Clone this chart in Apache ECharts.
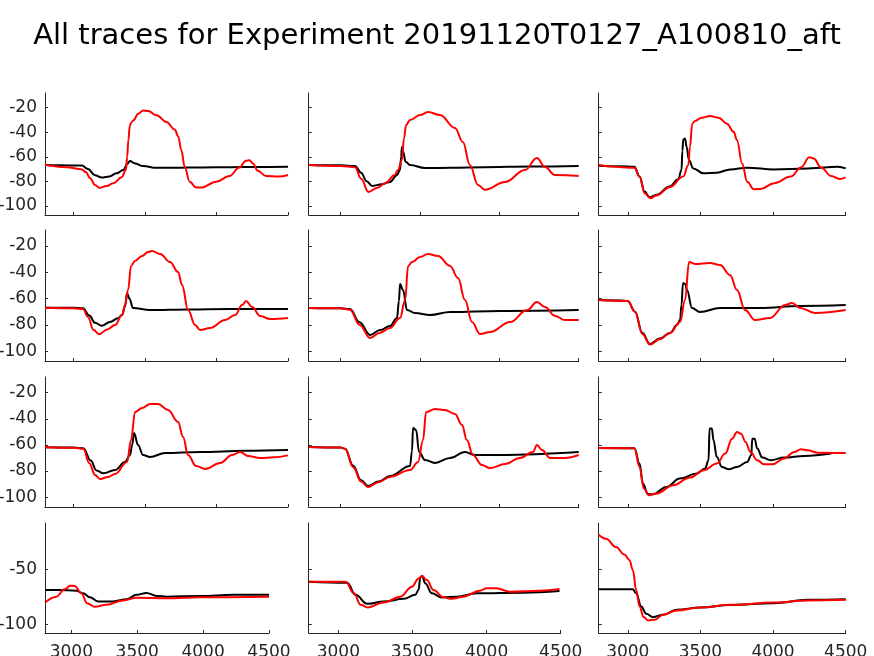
<!DOCTYPE html>
<html><head><meta charset="utf-8">
<script src="https://cdn.jsdelivr.net/npm/echarts@6/dist/echarts.min.js"></script>
<style>html,body{margin:0;padding:0;background:#fff}#c{width:874px;height:656px}</style>
</head><body><div id="c"></div>
<script>
const titleText = 'All traces for Experiment 20191120T0127_A100810_aft';
const xTicks = [3000, 3500, 4000, 4500];
const yTicksTop = [-100, -80, -60, -40, -20];
const yTicksBottom = [-100, -50];

const k11 = [[2800,-66.8],[2900,-67],[3058,-67.2],[3100,-70],[3150,-75],[3197,-77],[3250,-76],[3300,-73.5],[3348,-70.8],[3375,-66],[3394,-63.5],[3430,-65.5],[3487,-67.6],[3580,-69],[3700,-69],[3900,-68.7],[4100,-68.5],[4300,-68.3],[4500,-68.2]];
const r11 = [[2800,-66.5],[2950,-68.5],[3058,-70.3],[3085,-72.5],[3116,-77.6],[3150,-83],[3181,-85.4],[3230,-83.8],[3278,-81.6],[3336,-76.8],[3366,-70.8],[3375,-60],[3383,-46.5],[3393,-35],[3401,-32.4],[3418,-30.3],[3452,-24.9],[3487,-22.2],[3522,-22.7],[3580,-26.2],[3650,-31.6],[3708,-37.8],[3731,-43.2],[3754,-54.6],[3777,-68.1],[3812,-80.3],[3858,-85.1],[3893,-85.1],[3998,-80.3],[4090,-75.7],[4160,-68.7],[4206,-63.2],[4230,-62.8],[4255,-65.5],[4288,-71.4],[4346,-75.7],[4438,-76.2],[4500,-74.9]];
const k12 = [[2800,-66.7],[3000,-67],[3092,-67.5],[3130,-73],[3165,-80],[3200,-83.8],[3260,-82.5],[3312,-80.6],[3355,-75],[3375,-70.8],[3382,-60],[3387,-52],[3395,-56],[3410,-64],[3438,-66.7],[3532,-69.2],[3700,-69],[3900,-68.5],[4200,-68],[4500,-67.5]];
const r12 = [[2800,-66.7],[3000,-67.5],[3092,-68.5],[3130,-78],[3176,-88.7],[3230,-85.5],[3283,-81.4],[3340,-75],[3362,-70.8],[3387,-62.6],[3400,-45],[3413,-34.1],[3438,-30],[3501,-26],[3551,-23.5],[3627,-26],[3721,-36.5],[3771,-48],[3815,-66.7],[3866,-83],[3910,-87],[4036,-80.6],[4162,-70.8],[4237,-61],[4288,-68.4],[4351,-74.9],[4500,-75.7]];
const k13 = [[2800,-67.3],[2950,-67.8],[3046,-68.1],[3081,-76.2],[3116,-88.4],[3150,-93],[3197,-91.1],[3289,-84.3],[3347,-78.4],[3370,-70.8],[3376,-55],[3382,-46],[3394,-45.1],[3405,-51.9],[3421,-62.7],[3451,-69.5],[3521,-73.5],[3613,-73],[3706,-70.3],[3822,-68.9],[4007,-70.3],[4238,-69.5],[4354,-68.7],[4447,-68.1],[4500,-69.5]];
const r13 = [[2800,-66.8],[2880,-68],[3046,-69],[3081,-76.2],[3116,-89.7],[3155,-93.8],[3197,-91.6],[3289,-84.9],[3382,-76.2],[3417,-66.8],[3428,-51.9],[3444,-33],[3463,-30.8],[3509,-28.1],[3567,-26.8],[3625,-28.1],[3683,-33],[3729,-39.7],[3752,-46.5],[3787,-65.4],[3822,-80.3],[3868,-86.5],[3914,-86.2],[4007,-81.6],[4123,-76.2],[4192,-68.7],[4250,-60.5],[4280,-61.4],[4331,-68.7],[4400,-75.7],[4458,-78.1],[4500,-76.8]];
const k21 = [[2800,-67],[3000,-67],[3066,-67.5],[3110,-73],[3150,-78.5],[3197,-80.7],[3255,-77.9],[3310,-75],[3339,-72.6],[3360,-66],[3374,-55.8],[3390,-60],[3416,-67.2],[3535,-68.8],[3800,-68.3],[4100,-68],[4500,-68]];
const r21 = [[2800,-67],[3000,-67.5],[3066,-68],[3100,-74],[3140,-84],[3178,-87.2],[3235,-83.5],[3290,-80.2],[3339,-72.6],[3360,-65],[3381,-53.6],[3402,-35.3],[3430,-31.5],[3479,-27.7],[3521,-24.7],[3549,-24],[3605,-26.2],[3675,-32.3],[3731,-39.9],[3759,-49.8],[3801,-68.8],[3850,-80.2],[3885,-84],[3955,-82.4],[4060,-76.4],[4130,-72.6],[4179,-65],[4207,-61.9],[4249,-66.5],[4305,-73.3],[4375,-75.6],[4500,-74.8]];
const k22 = [[2800,-67.2],[3000,-67.5],[3060,-68],[3120,-78],[3186,-87.7],[3250,-84],[3312,-80.9],[3356,-74.8],[3368,-62],[3375,-49],[3394,-53.6],[3419,-68.8],[3469,-71],[3564,-72.6],[3690,-70.3],[4004,-69.5],[4500,-68.8]];
const r22 = [[2800,-67.2],[3000,-67.5],[3060,-68.5],[3120,-80],[3186,-90],[3250,-86],[3312,-82.4],[3375,-74.8],[3407,-61.2],[3426,-35.3],[3451,-32.3],[3501,-28.5],[3551,-26.2],[3614,-27.7],[3690,-35.3],[3740,-44.5],[3784,-61.2],[3828,-77.9],[3879,-87],[3942,-85.5],[4068,-77.9],[4175,-68.8],[4237,-62.7],[4288,-66.5],[4351,-73.3],[4414,-76.4],[4500,-76.4]];
const k23 = [[2800,-61.2],[2950,-61.5],[3000,-62],[3050,-70],[3100,-86],[3153,-94.6],[3220,-90.5],[3291,-86.2],[3340,-80],[3360,-76.4],[3370,-65],[3380,-48.3],[3395,-49],[3408,-53.6],[3442,-67.2],[3497,-70.3],[3635,-67.2],[3910,-67.2],[4186,-65.7],[4500,-65]];
const r23 = [[2800,-61.2],[3000,-62],[3050,-70],[3100,-87],[3153,-95],[3220,-91],[3291,-86.2],[3360,-77.9],[3394,-61.2],[3422,-32.3],[3463,-33.8],[3566,-33],[3635,-34.6],[3704,-42.2],[3752,-53.6],[3807,-68.8],[3876,-76.4],[3979,-74.8],[4083,-65],[4131,-63.4],[4186,-67.2],[4289,-71],[4500,-68.8]];
const k31 = [[2800,-61.8],[3000,-62],[3068,-62.5],[3120,-72],[3160,-79.5],[3208,-81.7],[3290,-79.2],[3360,-73],[3395,-67.7],[3410,-60],[3423,-50.9],[3451,-60],[3486,-67.7],[3535,-69.2],[3640,-66.2],[3885,-65.4],[4200,-64.5],[4500,-63.9]];
const r31 = [[2800,-61.8],[3000,-62.2],[3068,-63],[3110,-74],[3150,-83],[3185,-86.1],[3240,-84.5],[3290,-82.2],[3374,-73],[3402,-56.2],[3430,-34.8],[3479,-31.7],[3535,-28.7],[3591,-28.7],[3661,-33.3],[3731,-42.4],[3766,-53.9],[3801,-67.7],[3857,-76.1],[3920,-78.4],[4025,-73.8],[4109,-67.7],[4165,-65.4],[4221,-68.5],[4305,-70],[4400,-69.5],[4500,-68]];
const k32 = [[2800,-61.6],[3000,-62],[3029,-63],[3080,-76],[3130,-87],[3173,-91.4],[3240,-88],[3312,-83.8],[3438,-76.1],[3450,-65],[3457,-47],[3476,-48.6],[3495,-65.4],[3532,-71.5],[3595,-73.8],[3690,-70],[3784,-65.4],[3847,-67.7],[4004,-67.7],[4500,-65.4]];
const r32 = [[2800,-61.6],[3000,-62],[3029,-63],[3080,-77],[3130,-88],[3173,-92.2],[3240,-88.5],[3312,-84.5],[3438,-79.2],[3489,-73],[3520,-56.2],[3539,-34.8],[3595,-32.5],[3658,-33.3],[3721,-36.3],[3765,-44.7],[3796,-56.2],[3834,-67.7],[3891,-75.4],[3942,-77.7],[4036,-74.6],[4130,-70],[4212,-65.4],[4237,-60],[4269,-63.9],[4320,-70],[4414,-70],[4500,-67.7]];
const k33 = [[2800,-62.3],[3046,-62.5],[3081,-74.3],[3104,-89.6],[3139,-97.7],[3174,-97.7],[3266,-92.1],[3359,-85.7],[3475,-81.9],[3532,-78.1],[3556,-71.7],[3563,-47.5],[3579,-47.5],[3590,-56.4],[3613,-69.2],[3648,-76.8],[3695,-78.6],[3752,-76.8],[3822,-73],[3850,-67.9],[3857,-55.2],[3873,-55.2],[3891,-62.8],[3926,-69.7],[3984,-71.7],[4076,-69.7],[4215,-68.4],[4400,-66.6]];
const r33 = [[2800,-62.3],[3046,-62.5],[3081,-76.8],[3111,-93.4],[3146,-98.5],[3197,-97.2],[3313,-90.8],[3428,-85],[3521,-79.4],[3613,-74.3],[3671,-66.6],[3718,-55.2],[3752,-50.1],[3780,-51.4],[3810,-57.7],[3845,-65.4],[3891,-71.7],[3938,-74.8],[3995,-74.8],[4076,-70.4],[4146,-65.4],[4192,-63.3],[4238,-64.1],[4307,-65.9],[4500,-66.1]];
const k41 = [[2800,-68.6],[2898,-68.6],[3038,-69.2],[3089,-71.6],[3140,-75.1],[3203,-79],[3317,-79],[3419,-76.9],[3495,-73],[3571,-71.3],[3647,-74],[3723,-74.6],[3977,-74],[4231,-73],[4500,-73]];
const r41 = [[2800,-79.9],[2886,-74.6],[2949,-68],[2992,-64.7],[3025,-65],[3076,-71.6],[3119,-80.5],[3178,-83.8],[3266,-82],[3393,-78.1],[3495,-75.7],[3723,-76],[3977,-75.1],[4500,-74.6]];
const k42 = [[2800,-61.1],[3060,-62],[3116,-73],[3195,-81.1],[3306,-79],[3441,-76.6],[3519,-73],[3541,-68.6],[3553,-57.2],[3566,-56],[3586,-62.6],[3631,-71.6],[3698,-75.4],[3799,-74.6],[3933,-71.6],[4246,-71],[4492,-69.5]];
const r42 = [[2800,-61.1],[3049,-61.2],[3105,-71.6],[3150,-82],[3199,-84.4],[3306,-79.9],[3418,-74.6],[3497,-65.6],[3541,-58.1],[3564,-56],[3597,-59.6],[3642,-68.6],[3709,-75.1],[3765,-76.6],[3843,-74.6],[3955,-69.2],[4000,-67.1],[4067,-67.1],[4157,-70.1],[4358,-69.2],[4492,-67.7]];
const k43 = [[2800,-68],[3035,-68],[3058,-71.6],[3093,-83.5],[3127,-90.1],[3174,-93.1],[3243,-91],[3336,-86.5],[3498,-84.4],[3706,-82.2],[4007,-80.5],[4238,-77.5],[4500,-76.9]];
const r43 = [[2800,-18.6],[2850,-22.2],[2919,-29.6],[2977,-36.5],[3012,-41.6],[3035,-50.6],[3058,-68.6],[3081,-83.5],[3109,-93.1],[3139,-96.1],[3185,-95.5],[3243,-91],[3336,-87.1],[3498,-84.4],[3706,-82],[4007,-79.9],[4238,-78.1],[4500,-77.5]];

const blackTraces = [k11,k12,k13,k21,k22,k23,k31,k32,k33,k41,k42,k43];
const redTraces = [r11,r12,r13,r21,r22,r23,r31,r32,r33,r41,r42,r43];

// layout (pixels)
const rowBoxes = [[93,122],[230,131],[377,130],[523,110]];
const colBoxes = [[45,243],[308.7,270],[598.7,247]];
const colBoxesLast = [[45,224],[308.7,252],[598.7,247]];

const axisColor = '#262626';
const grids = [], xAxes = [], yAxes = [], series = [];
for (let r = 0; r < 4; r++) {
  for (let c = 0; c < 3; c++) {
    const i = r * 3 + c;
    const cb = (r === 3 ? colBoxesLast : colBoxes)[c];
    grids.push({left: cb[0], top: rowBoxes[r][0], width: cb[1], height: rowBoxes[r][1], containLabel: false, outerBoundsMode: 'none'});
    xAxes.push({
      type: 'value', gridIndex: i, min: 2800, max: 4500,
      axisLine: {show: true, onZero: false, lineStyle: {color: axisColor, width: 1}},
      axisTick: {show: true, inside: true, length: 3, customValues: xTicks, lineStyle: {color: axisColor}},
      axisLabel: {show: r === 3, customValues: xTicks, formatter: v => String(v), color: axisColor, fontSize: 17, fontFamily: 'DejaVu Sans', margin: 11, hideOverlap: false},
      splitLine: {show: false}
    });
    const yt = r === 3 ? yTicksBottom : yTicksTop;
    yAxes.push({
      type: 'value', gridIndex: i, min: -107.5, max: -8,
      axisLine: {show: true, onZero: false, lineStyle: {color: axisColor, width: 1}},
      axisTick: {show: true, inside: true, length: 3, customValues: yt, lineStyle: {color: axisColor}},
      axisLabel: {show: c === 0, customValues: yt, formatter: v => String(v), color: axisColor, fontSize: 17, fontFamily: 'DejaVu Sans', margin: 8},
      splitLine: {show: false}
    });
    series.push({type: 'line', xAxisIndex: i, yAxisIndex: i, data: blackTraces[i], showSymbol: false, symbol: 'none',
      smooth: 0.4, smoothMonotone: 'x', lineStyle: {color: '#000000', width: 2}, z: 2});
    series.push({type: 'line', xAxisIndex: i, yAxisIndex: i, data: redTraces[i], showSymbol: false, symbol: 'none',
      smooth: 0.4, smoothMonotone: 'x', lineStyle: {color: '#ff0000', width: 2}, z: 3});
  }
}

const chart = echarts.init(document.getElementById('c'));
chart.setOption({
  animation: false,
  backgroundColor: '#ffffff',
  title: {text: titleText, left: 'center', top: 17, textStyle: {fontSize: 29, fontWeight: 'normal', color: '#000', fontFamily: 'DejaVu Sans'}},
  grid: grids, xAxis: xAxes, yAxis: yAxes, series: series
});
</script></body></html>
